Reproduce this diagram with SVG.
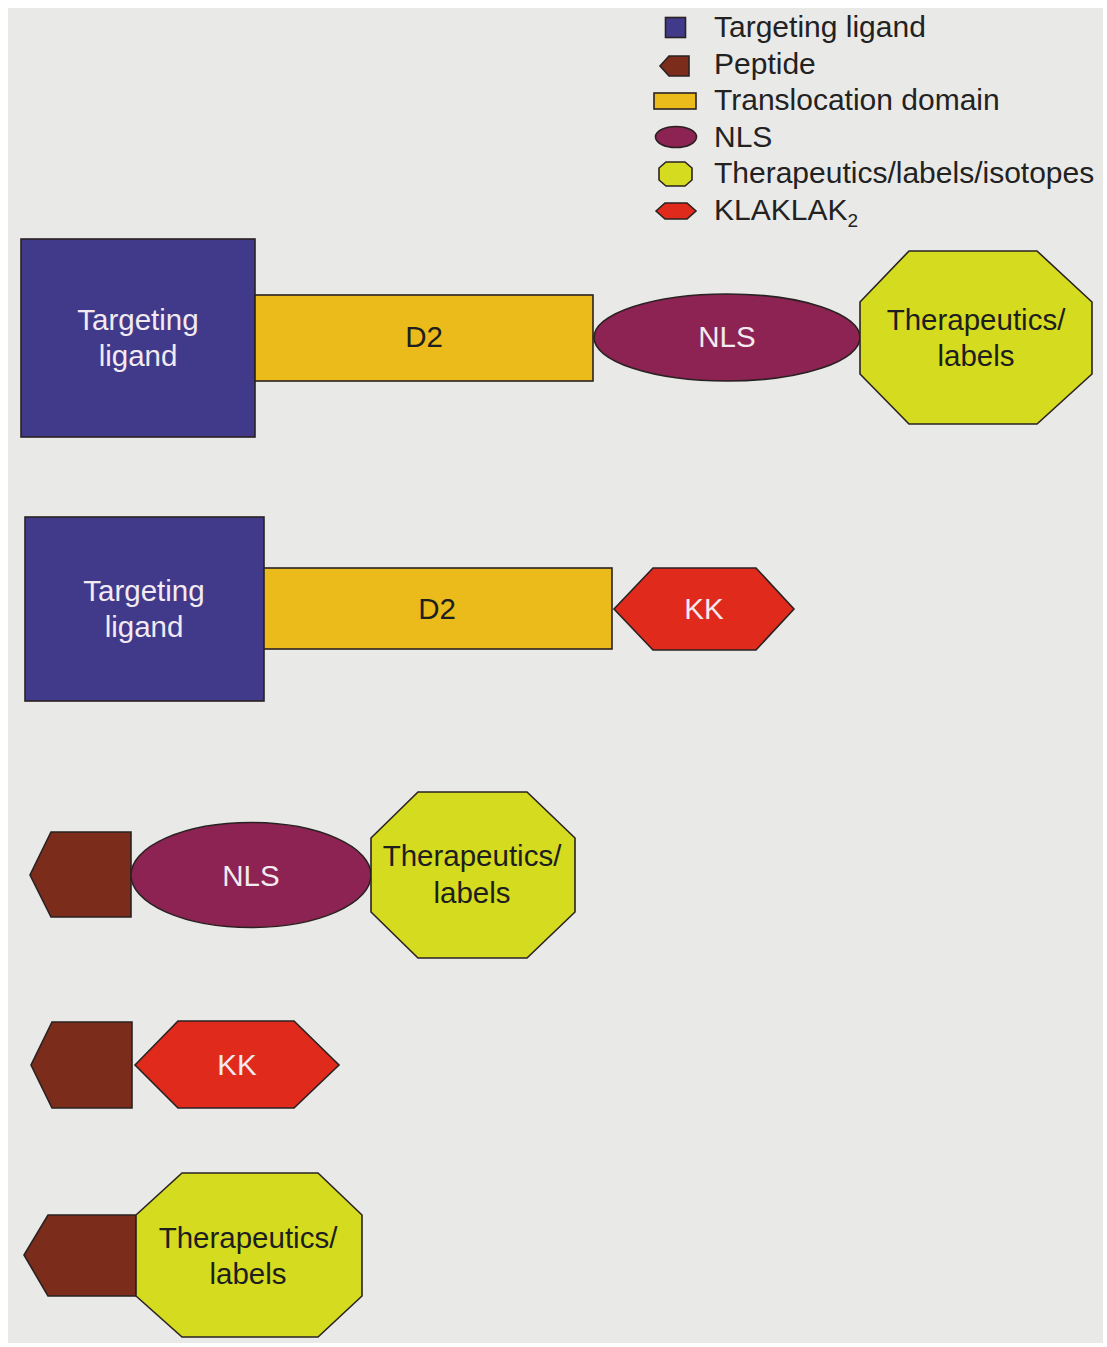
<svg xmlns="http://www.w3.org/2000/svg" width="1107" height="1347" viewBox="0 0 1107 1347">
<style>
.s{stroke:#2a2222;stroke-width:1.6;stroke-linejoin:miter}
.lig{fill:#413a8b}
.d2{fill:#ebbb1c}
.nls{fill:#8c2352}
.ther{fill:#d5db1e}
.kk{fill:#e02a1c}
.pep{fill:#7c2c1a}
text{font-family:"Liberation Sans",Arial,sans-serif;font-size:29.5px}
.c{text-anchor:middle}
.dk{fill:#1e1e1e}
.lt{fill:#f2eaf0}
.lg{fill:#222;font-size:30px}
</style>
<rect x="0" y="0" width="1107" height="1347" fill="#ffffff"/>
<rect x="8" y="8" width="1095" height="1335" fill="#e9e9e7"/>

<g id="legend">
  <rect class="s lig" x="665.5" y="17.5" width="20" height="20"/>
  <polygon class="s pep" points="669,56 689,56 689,76 669,76 660,66"/>
  <rect class="s d2" x="654" y="93" width="42" height="16"/>
  <ellipse class="s nls" cx="676" cy="137" rx="20.5" ry="10.5"/>
  <polygon class="s ther" points="666,162 685,162 692,168 692,180 685,186 666,186 659,180 659,168"/>
  <polygon class="s kk" points="656,211 665,203 687,203 696,211 687,219 665,219"/>
  <text class="lg" x="714" y="37">Targeting ligand</text>
  <text class="lg" x="714" y="74">Peptide</text>
  <text class="lg" x="714" y="110">Translocation domain</text>
  <text class="lg" x="714" y="147">NLS</text>
  <text class="lg" x="714" y="183">Therapeutics/labels/isotopes</text>
  <text class="lg" x="714" y="220">KLAKLAK<tspan font-size="19" dy="7">2</tspan></text>
</g>

<g id="connectors"></g>

<!-- Row 1 -->
<g id="r1-ligand">
  <rect class="s lig" x="21" y="239" width="234" height="198"/>
  <text class="c lt" x="138" y="330">Targeting</text>
  <text class="c lt" x="138" y="366">ligand</text>
</g>
<g id="r1-d2">
  <rect class="s d2" x="255" y="295" width="338" height="86"/>
  <text class="c dk" x="424" y="347">D2</text>
</g>
<g id="r1-nls">
  <ellipse class="s nls" cx="727" cy="337.5" rx="133" ry="43.5"/>
  <text class="c lt" x="727" y="347">NLS</text>
</g>
<g id="r1-ther">
  <polygon class="s ther" points="909,251 1037,251 1092,302 1092,374 1037,424 909,424 860,374 860,302"/>
  <text class="c dk" x="976" y="330">Therapeutics/</text>
  <text class="c dk" x="976" y="366">labels</text>
</g>

<!-- Row 2 -->
<g id="r2-ligand">
  <rect class="s lig" x="25" y="517" width="239" height="184"/>
  <text class="c lt" x="144" y="601">Targeting</text>
  <text class="c lt" x="144" y="637">ligand</text>
</g>
<g id="r2-d2">
  <rect class="s d2" x="264" y="568" width="348" height="81"/>
  <text class="c dk" x="437" y="619">D2</text>
</g>
<g id="r2-kk">
  <polygon class="s kk" points="614,609 653,568 756,568 794,609 756,650 653,650"/>
  <text class="c lt" x="704" y="619">KK</text>
</g>

<!-- Row 3 -->
<g id="r3-peptide">
  <polygon class="s pep" points="51,832 131,832 131,917 51,917 30,875"/>
</g>
<g id="r3-nls">
  <ellipse class="s nls" cx="251" cy="875" rx="120" ry="52.5"/>
  <text class="c lt" x="251" y="886">NLS</text>
</g>
<g id="r3-ther">
  <polygon class="s ther" points="418,792 527,792 575,838 575,912 527,958 418,958 371,912 371,838"/>
  <text class="c dk" x="472" y="866">Therapeutics/</text>
  <text class="c dk" x="472" y="903">labels</text>
</g>

<!-- Row 4 -->
<g id="r4-peptide">
  <polygon class="s pep" points="52,1022 132,1022 132,1108 52,1108 31,1065"/>
</g>
<g id="r4-kk">
  <polygon class="s kk" points="135,1065 178,1021 294,1021 339,1065 294,1108 178,1108"/>
  <text class="c lt" x="237" y="1075">KK</text>
</g>

<!-- Row 5 -->
<g id="r5-peptide">
  <polygon class="s pep" points="48,1215 136,1215 136,1296 48,1296 24,1255"/>
</g>
<g id="r5-ther">
  <polygon class="s ther" points="182,1173 318,1173 362,1215 362,1296 318,1337 182,1337 136,1296 136,1215"/>
  <text class="c dk" x="248" y="1248">Therapeutics/</text>
  <text class="c dk" x="248" y="1284">labels</text>
</g>
</svg>
